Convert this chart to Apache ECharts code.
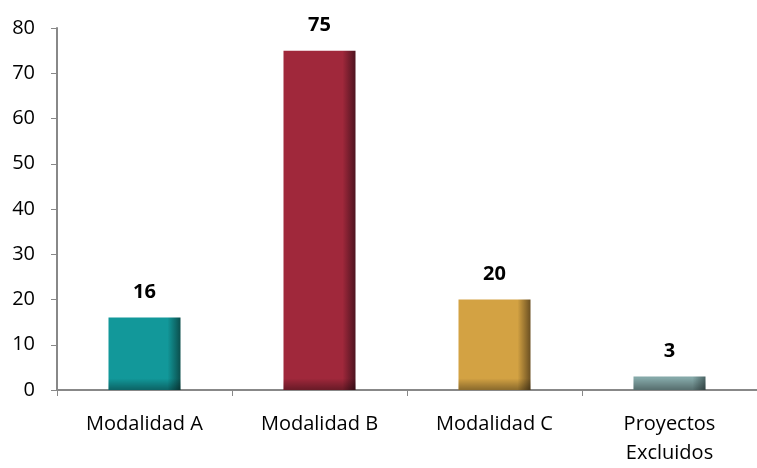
<!DOCTYPE html>
<html>
<head>
<meta charset="utf-8">
<script src="https://cdn.jsdelivr.net/npm/echarts@6/dist/echarts.min.js"></script>
<style>
  html, body { margin: 0; padding: 0; background: #fff; overflow: hidden; }
  #chart { width: 757px; height: 468px; }
</style>
</head>
<body>
<div id="chart"></div>
<script>
  var categories = ['Modalidad A', 'Modalidad B', 'Modalidad C', 'Proyectos\nExcluidos'];
  var values = [16, 75, 20, 3];
  var colors = [
    ['#12989a', '#0b4f4d'],
    ['#a0283b', '#4e1420'],
    ['#d3a243', '#6b5022'],
    ['#84a8a8', '#4a6363']
  ];

  var plotH = 372, yMax = 80;

  var chart = echarts.init(document.getElementById('chart'));

  // main bars: flat colour, darker strip on the right
  var barData = values.map(function (v, i) {
    return {
      value: v,
      itemStyle: {
        color: {
          type: 'linear', x: 0, y: 0, x2: 1, y2: 0,
          colorStops: [
            { offset: 0, color: colors[i][0] },
            { offset: 0.82, color: colors[i][0] },
            { offset: 1, color: colors[i][1] }
          ]
        }
      }
    };
  });

  // overlay: shading at the bottom of each bar (~12px)
  var shadeData = values.map(function (v) {
    var h = v / yMax * plotH;
    var start = Math.max(0, 1 - 12 / h);
    return {
      value: v,
      itemStyle: {
        color: {
          type: 'linear', x: 0, y: 0, x2: 0, y2: 1,
          colorStops: [
            { offset: 0, color: 'rgba(0,0,0,0)' },
            { offset: start, color: 'rgba(0,0,0,0)' },
            { offset: 1, color: 'rgba(0,0,0,0.35)' }
          ]
        }
      }
    };
  });

  chart.setOption({
    animation: false,
    textStyle: { fontFamily: 'Open Sans' },
    grid: { left: 57, top: 28, right: -12, bottom: 68, containLabel: false },
    xAxis: {
      type: 'category',
      data: categories,
      axisLine: { lineStyle: { color: '#888', width: 2 } },
      axisTick: { show: true, length: 6, lineStyle: { color: '#888' } },
      axisLabel: { color: '#000', fontSize: 20, margin: 20, lineHeight: 29 }
    },
    yAxis: {
      type: 'value',
      min: 0, max: yMax, interval: 10,
      splitLine: { show: false },
      axisLine: { show: true, lineStyle: { color: '#888', width: 2 } },
      axisTick: { show: true, length: 6, lineStyle: { color: '#888' } },
      axisLabel: { color: '#000', fontSize: 20, margin: 22 }
    },
    series: [{
      type: 'bar',
      data: barData,
      barWidth: 72,
      label: {
        show: true,
        position: 'top',
        distance: 15,
        color: '#000',
        fontWeight: 'bold',
        fontSize: 20
      }
    }, {
      type: 'bar',
      data: shadeData,
      barWidth: 72,
      barGap: '-100%',
      silent: true,
      label: { show: false }
    }]
  });
</script>
</body>
</html>
